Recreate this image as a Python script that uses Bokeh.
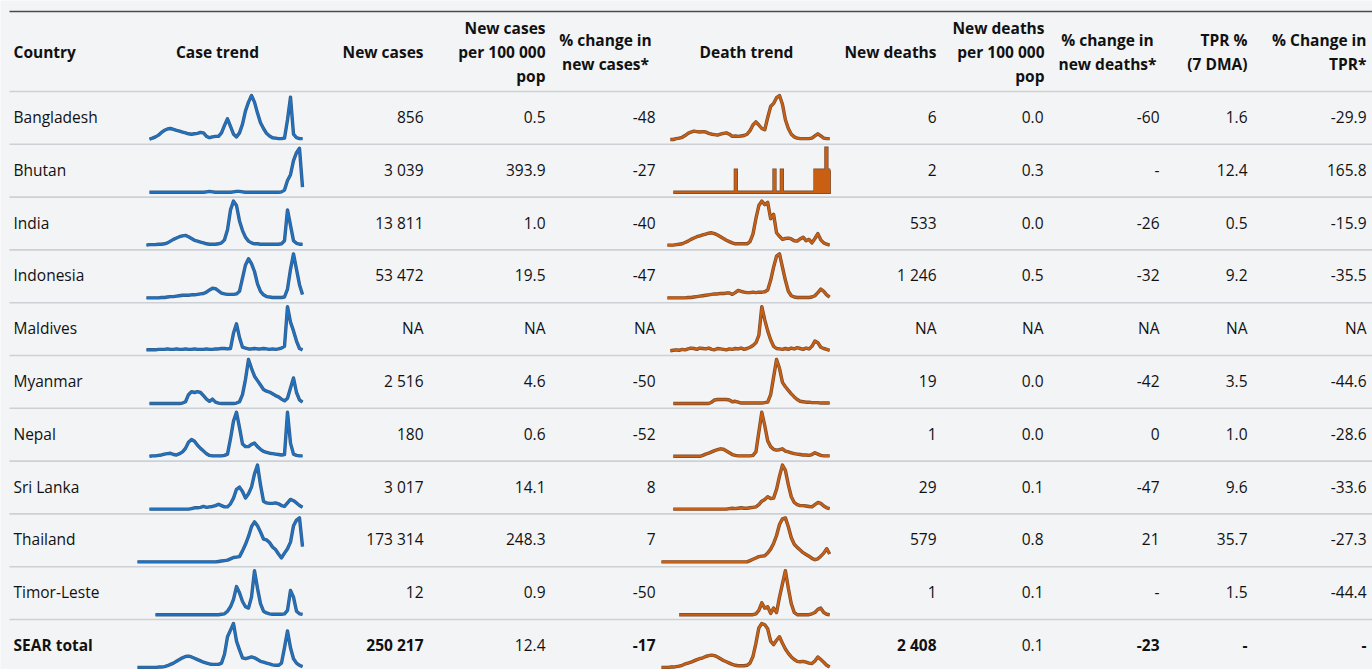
from bokeh.plotting import figure
from bokeh.models import Range1d, ColumnDataSource
from bokeh.core.properties import value
from bokeh.embed import file_html
from bokeh.resources import INLINE

# ---------------- data ----------------
countries = ["Bangladesh", "Bhutan", "India", "Indonesia", "Maldives", "Myanmar",
             "Nepal", "Sri Lanka", "Thailand", "Timor-Leste", "SEAR total"]
new_cases = [856, 3039, 13811, 53472, "NA", 2516, 180, 3017, 173314, 12, 250217]
cases_per_100k = [0.5, 393.9, 1.0, 19.5, "NA", 4.6, 0.6, 14.1, 248.3, 0.9, 12.4]
pct_change_cases = [-48, -27, -40, -47, "NA", -50, -52, 8, 7, -50, -17]
new_deaths = [6, 2, 533, 1246, "NA", 19, 1, 29, 579, 1, 2408]
deaths_per_100k = [0.0, 0.3, 0.0, 0.5, "NA", 0.0, 0.0, 0.1, 0.8, 0.1, 0.1]
pct_change_deaths = [-60, "-", -26, -32, "NA", -42, 0, -47, 21, "-", -23]
tpr_7dma = [1.6, 12.4, 0.5, 9.2, "NA", 3.5, 1.0, 9.6, 35.7, 1.5, "-"]
pct_change_tpr = [-29.9, 165.8, -15.9, -35.5, "NA", -44.6, -28.6, -33.6, -27.3, -44.4, "-"]

# case trend series (relative values, right-aligned on a common time grid of 56 steps)
case_bangladesh = [1, 3, 6, 10, 16, 21, 24, 25, 23, 21, 19, 17, 15, 13, 12, 13, 14, 16, 15, 7,
                   4, 6, 7, 7, 15, 32, 47, 30, 12, 6, 15, 35, 65, 85, 100, 85, 60, 38, 25, 14,
                   8, 4, 3, 2, 2, 3, 45, 96, 12, 4, 2, 2]
case_bhutan = [0] * 19 + [1, 2, 1, 0, 0, 0, 0, 0, 0, 1, 2, 2, 1] + [0] * 12 + \
              [1, 5, 27, 40, 72, 90, 100, 12]
case_india = [0, 1, 1, 1, 2, 2, 3, 5, 9, 13, 16, 19, 21, 22, 19, 15, 11, 9, 7, 5,
              3, 2, 2, 2, 3, 5, 12, 35, 80, 100, 90, 55, 33, 18, 9, 5, 3, 3, 2, 2,
              2, 2, 2, 2, 2, 3, 10, 80, 45, 10, 4, 2, 2]
case_indonesia = [0, 0, 0, 0, 0, 1, 1, 2, 3, 3, 4, 5, 6, 6, 6, 7, 7, 8, 9, 10,
                  13, 18, 22, 21, 16, 11, 9, 8, 8, 8, 9, 15, 45, 75, 89, 78, 60, 32, 15, 7,
                  3, 2, 1, 1, 1, 1, 2, 20, 65, 100, 65, 30, 8]
case_maldives = [2, 2, 2, 2, 3, 3, 3, 4, 3, 3, 4, 3, 3, 4, 3, 3, 4, 3, 3, 3,
                 4, 3, 3, 4, 4, 5, 5, 4, 5, 40, 61, 30, 8, 6, 4, 4, 5, 4, 4, 5,
                 4, 3, 4, 3, 4, 6, 10, 100, 65, 45, 22, 5, 2]
case_myanmar = [0] * 11 + [1, 4, 20, 27, 25, 27, 25, 18, 10, 5, 10, 3, 1, 0, 0, 0, 0, 0, 1,
                           4, 20, 55, 100, 80, 62, 52, 42, 32, 28, 26, 22, 18, 15, 10, 6, 12, 35, 58, 25,
                           8, 3]
case_nepal = [0, 1, 1, 2, 3, 5, 6, 7, 4, 3, 6, 10, 18, 32, 38, 34, 25, 18, 12, 6,
              2, 1, 1, 1, 1, 2, 5, 40, 80, 100, 65, 28, 22, 22, 27, 30, 22, 16, 11, 9,
              7, 6, 5, 4, 3, 4, 100, 30, 5, 2, 1, 1]
case_srilanka = [0] * 14 + [1, 3, 3, 4, 6, 4, 5, 6, 8, 11, 8, 5, 5, 12, 25, 45, 50, 40, 25, 35,
                            50, 80, 100, 55, 18, 14, 13, 13, 14, 12, 8, 6, 14, 22, 19, 14, 8, 4]
case_thailand = [0] * 27 + [1, 2, 3, 4, 7, 10, 11, 12, 25, 40, 58, 80, 91, 82, 68, 52, 50, 44, 34, 28,
                            18, 9, 20, 30, 45, 82, 95, 100, 35]
case_timor = [0] * 22 + [1, 2, 8, 18, 35, 64, 50, 30, 18, 15, 40, 100, 60, 25, 8, 4, 2, 1, 1, 1,
                         1, 2, 10, 55, 40, 8, 2, 1]
case_sear = [0, 0, 0, 0, 0, 0, 0, 1, 1, 2, 4, 7, 10, 14, 18, 22, 25, 26, 24, 21,
             18, 15, 12, 10, 8, 7, 7, 7, 10, 30, 70, 85, 100, 60, 40, 22, 20, 22, 24, 22,
             18, 14, 12, 10, 8, 6, 5, 5, 10, 45, 83, 45, 20, 10, 5, 2]

# death trend series (relative values, right-aligned on a common time grid of 58 steps)
death_bangladesh = [0, 0, 2, 3, 5, 9, 14, 17, 19, 18, 17, 18, 17, 14, 12, 11, 10, 12, 14, 15,
                    12, 7, 8, 7, 8, 9, 12, 20, 33, 40, 33, 25, 22, 50, 75, 82, 95, 100, 80, 45,
                    25, 12, 6, 3, 2, 2, 2, 2, 3, 8, 13, 8, 3, 2, 2]
death_india = [0, 0, 0, 1, 2, 3, 6, 9, 13, 16, 19, 21, 23, 25, 27, 28, 26, 23, 19, 15,
               11, 8, 5, 3, 3, 3, 3, 3, 8, 25, 60, 90, 100, 92, 97, 60, 70, 28, 20, 13,
               15, 16, 14, 10, 9, 14, 18, 10, 13, 5, 15, 26, 12, 5, 2, 0]
death_indonesia = [0, 0, 0, 0, 0, 0, 0, 1, 1, 2, 3, 4, 5, 6, 7, 8, 9, 9, 10, 10,
                   11, 11, 8, 12, 17, 15, 13, 12, 12, 13, 12, 13, 13, 14, 18, 40, 70, 95, 100, 70,
                   40, 15, 5, 2, 1, 1, 1, 1, 1, 2, 5, 12, 20, 15, 7, 2]
death_maldives = [0, 1, 2, 1, 3, 2, 4, 6, 5, 3, 6, 5, 4, 6, 3, 2, 5, 4, 3, 2,
                  4, 3, 5, 4, 6, 3, 5, 8, 12, 18, 35, 100, 70, 45, 25, 10, 5, 4, 3, 5,
                  3, 6, 4, 7, 5, 3, 6, 4, 10, 22, 18, 8, 5, 3, 1]
death_myanmar = [0] * 13 + [3, 8, 9, 9, 9, 9, 8, 4, 5, 3, 1, 1, 1, 1, 1, 1, 1, 1, 2,
                            3, 20, 60, 100, 80, 48, 38, 30, 22, 15, 9, 5, 4, 3, 3, 2, 2, 2, 1, 1,
                            1, 1]
death_nepal = [0] * 10 + [2, 5, 7, 10, 13, 15, 17, 16, 12, 8, 4, 2, 1, 1, 1, 1, 1, 2, 10, 55,
                          100, 70, 35, 22, 16, 14, 15, 17, 12, 10, 8, 6, 5, 4, 3, 3, 2, 4, 8, 5,
                          2, 1, 1, 1]
death_srilanka = [0] * 19 + [1, 2, 1, 2, 3, 2, 2, 3, 4, 5, 10, 18, 22, 28, 24, 25, 45, 75, 100, 88,
                             55, 28, 15, 10, 8, 8, 7, 6, 5, 10, 15, 13, 7, 3, 1]
death_thailand = [0] * 30 + [3, 6, 9, 12, 13, 14, 20, 29, 42, 60, 85, 98, 100, 80, 55, 40, 33, 27, 21, 17,
                             13, 8, 5, 7, 13, 20, 30, 18]
death_timor = [0] * 26 + [2, 10, 27, 15, 18, 3, 15, 5, 40, 70, 100, 60, 25, 5, 0, 0, 0, 0, 0, 2,
                          5, 12, 15, 5, 1, 0]
death_sear = [0, 0, 0, 1, 1, 2, 3, 5, 8, 10, 12, 15, 18, 20, 22, 25, 27, 28, 27, 24,
              20, 16, 13, 10, 7, 5, 4, 4, 4, 5, 10, 25, 55, 90, 100, 97, 88, 60, 52, 62,
              70, 55, 42, 32, 24, 18, 14, 13, 14, 12, 10, 9, 15, 24, 18, 12, 5, 1]
# Bhutan: isolated daily deaths (position on the death time grid, deaths that day)
bhutan_death_start = 4
bhutan_death_days = [25.2, 38.3, 40.8, 52.2, 52.8, 53.5, 54.2, 55.2, 55.9, 56.5, 57.0]
bhutan_death_vals = [1, 1, 1, 1, 1, 1, 1, 1, 2, 1, 1]

case_series = [case_bangladesh, case_bhutan, case_india, case_indonesia, case_maldives,
               case_myanmar, case_nepal, case_srilanka, case_thailand, case_timor, case_sear]
death_series = [death_bangladesh, None, death_india, death_indonesia, death_maldives,
                death_myanmar, death_nepal, death_srilanka, death_thailand, death_timor, death_sear]

# ---------------- layout / style ----------------
BG = "#f3f4f6"
FONT = "Open Sans"
BLUE, BLUE_EDGE = "#1f72c2", "#1a3f66"
ORANGE, ORANGE_EDGE = "#c95f12", "#5e2c0a"
ROW0 = 91.0
ROW_H = 52.8
N_CASE, CASE_X0, CASE_DX = 56, 137.0, 3.0
N_DEATH, DEATH_X0, DEATH_DX = 58, 661.0, 2.95
SPARK_BASE, SPARK_H = 48.0, 44.0

p = figure(width=1372, height=669, x_range=Range1d(0, 1372), y_range=Range1d(669, 0),
           x_axis_type=None, y_axis_type=None, output_backend="svg", toolbar_location=None,
           min_border=0)
p.background_fill_color = BG
p.border_fill_color = BG
p.outline_line_color = None
p.grid.visible = False

# rules
p.segment(x0=[9], y0=[11], x1=[1372], y1=[11], line_color="#4a4a4a", line_width=1.6)
seps = [ROW0 + ROW_H * k for k in range(len(countries))]
p.segment(x0=[9] * len(seps), y0=seps, x1=[1372] * len(seps), y1=seps,
          line_color="#cdd0d4", line_width=1.6)

# header
hdr = [
    ("Country", 13, 51, "left"),
    ("Case trend", 217, 51, "center"),
    ("New cases", 423, 51, "right"),
    ("New cases", 545, 27, "right"), ("per 100 000", 545, 51, "right"), ("pop", 545, 75, "right"),
    ("% change in", 605, 39, "center"), ("new cases*", 605, 63, "center"),
    ("Death trend", 746, 51, "center"),
    ("New deaths", 936, 51, "right"),
    ("New deaths", 1044, 27, "right"), ("per 100 000", 1044, 51, "right"), ("pop", 1044, 75, "right"),
    ("% change in", 1107, 39, "center"), ("new deaths*", 1107, 63, "center"),
    ("TPR %", 1247, 39, "right"), ("(7 DMA)", 1247, 63, "right"),
    ("% Change in", 1366, 39, "right"), ("TPR*", 1366, 63, "right"),
]
hsrc = ColumnDataSource(dict(t=[h[0] for h in hdr], x=[h[1] for h in hdr],
                             y=[h[2] for h in hdr], a=[h[3] for h in hdr]))
p.text(x="x", y="y", text="t", text_align="a", source=hsrc, text_baseline="middle",
       text_font=value(FONT), text_font_size="15.5px", text_font_style="bold",
       text_color="#111111")


def fmt(v, dec):
    if isinstance(v, str):
        return v
    if dec == 0:
        return f"{v:,}".replace(",", " ")
    return f"{v:.{dec}f}"


cols = [(new_cases, 0, 423), (cases_per_100k, 1, 545), (pct_change_cases, 0, 655),
        (new_deaths, 0, 936), (deaths_per_100k, 1, 1043), (pct_change_deaths, 0, 1159),
        (tpr_7dma, 1, 1247), (pct_change_tpr, 1, 1366)]
bold_cols_total = {0, 2, 3, 5, 6, 7}

for style in ("normal", "bold"):
    xs, ys, ts, al = [], [], [], []
    for i, c in enumerate(countries):
        total = (i == len(countries) - 1)
        yc = ROW0 + ROW_H * i + 25.5
        if (style == "bold") == total:
            xs.append(13); ys.append(yc); ts.append(c); al.append("left")
        for j, (arr, dec, xr) in enumerate(cols):
            is_bold = total and j in bold_cols_total
            if is_bold == (style == "bold"):
                xs.append(xr); ys.append(yc); ts.append(fmt(arr[i], dec)); al.append("right")
    src = ColumnDataSource(dict(x=xs, y=ys, t=ts, a=al))
    p.text(x="x", y="y", text="t", text_align="a", source=src, text_baseline="middle",
           text_font=value(FONT), text_font_size="15.5px", text_font_style=style,
           text_color="#111111")


def spark(xs, ys, color, edge, join="round"):
    p.line(xs, ys, line_color=edge, line_width=3.4, line_join=join, line_alpha=0.85)
    p.line(xs, ys, line_color=color, line_width=2.1, line_join=join)


# sparklines
for i in range(len(countries)):
    top = ROW0 + ROW_H * i
    s = case_series[i]
    m = max(s)
    off = N_CASE - len(s)
    spark([CASE_X0 + CASE_DX * (off + k) for k in range(len(s))],
          [top + SPARK_BASE - v / m * SPARK_H for v in s], BLUE, BLUE_EDGE)
    d = death_series[i]
    if d is None:
        m = max(bhutan_death_vals)
        xs = [bhutan_death_start]
        ys = [0]
        for day, val in zip(bhutan_death_days, bhutan_death_vals):
            xs += [day - 0.15, day - 0.15, day + 0.15, day + 0.15]
            ys += [0, val, val, 0]
        xs, ys = xs[:-1], ys[:-1]
        spark([DEATH_X0 + DEATH_DX * t for t in xs],
              [top + SPARK_BASE - v / m * SPARK_H for v in ys], ORANGE, ORANGE_EDGE, "miter")
    else:
        m = max(d)
        off = N_DEATH - len(d)
        spark([DEATH_X0 + DEATH_DX * (off + k) for k in range(len(d))],
              [top + SPARK_BASE - v / m * SPARK_H for v in d], ORANGE, ORANGE_EDGE)

html = file_html(p, INLINE)
html = html.replace("<body>", '<body style="background-color: #f3f4f6;">', 1)
open("out.html", "w").write(html)
